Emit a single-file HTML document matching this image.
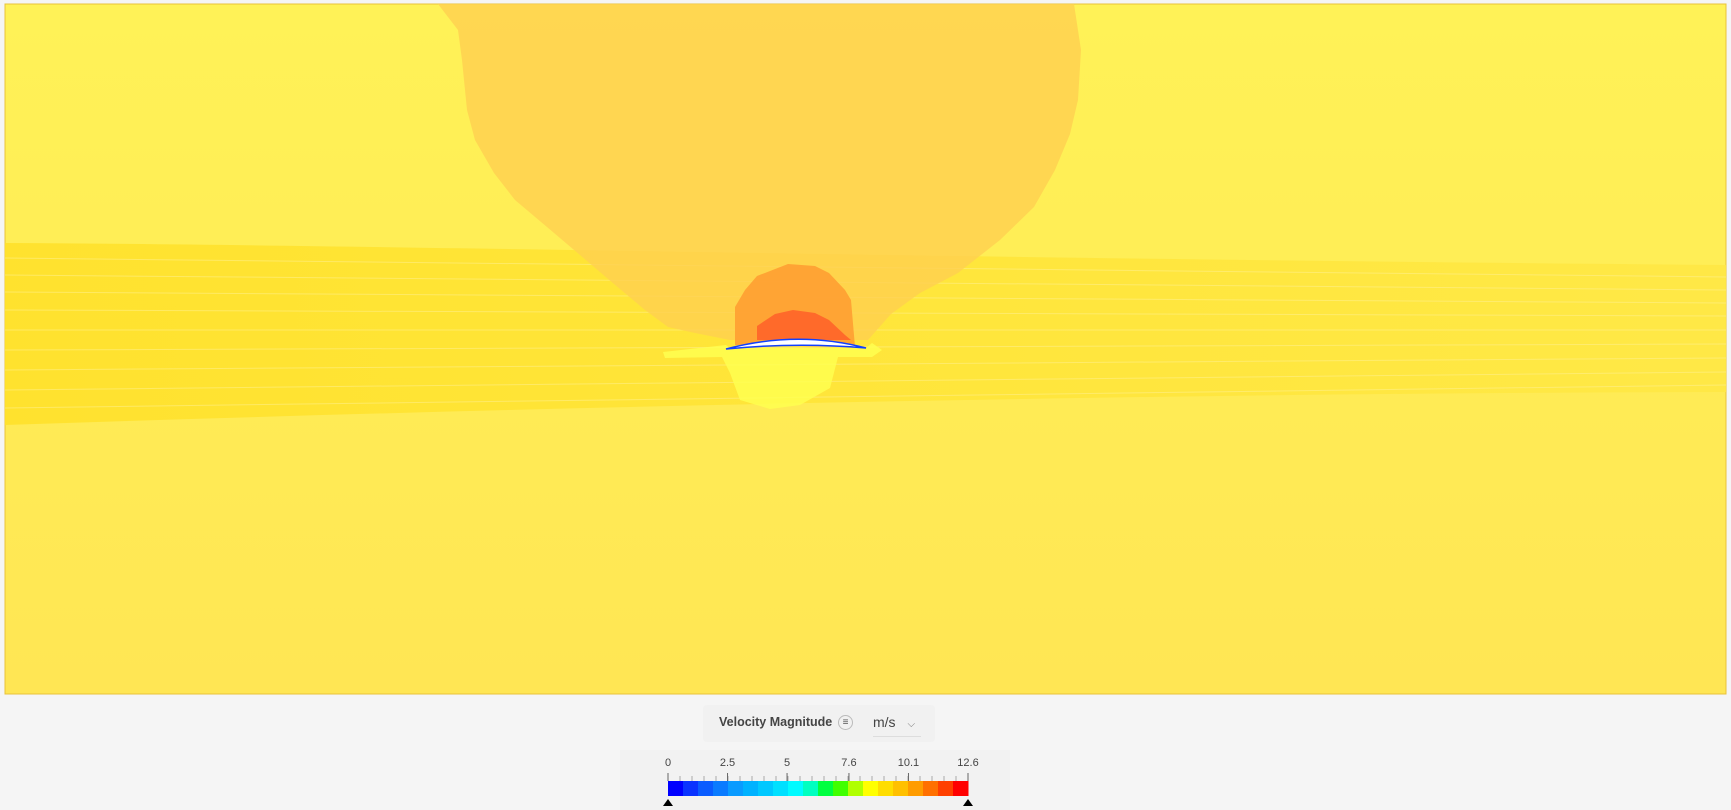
<!DOCTYPE html>
<html><head><meta charset="utf-8"><style>
body{margin:0;width:1731px;height:807px;background:#f5f5f5;font-family:"Liberation Sans",sans-serif;overflow:hidden;position:relative}
</style></head><body>
<svg width="1731" height="807" style="position:absolute;left:0;top:0">
<defs>
<linearGradient id="bg" x1="0" y1="0" x2="0" y2="1"><stop offset="0" stop-color="#fff257"/><stop offset="1" stop-color="#ffe654"/></linearGradient>
<linearGradient id="band" x1="0" y1="0" x2="1" y2="0"><stop offset="0" stop-color="#ffe12a"/><stop offset="1" stop-color="#ffe845"/></linearGradient>
</defs>
<rect x="5" y="4" width="1721" height="690" fill="url(#bg)" stroke="#e9c23a" stroke-width="1"/>
<path d="M5,243 C400,245 900,258 1726,265 L1726,392 C1200,393 600,405 5,425 Z" fill="url(#band)" opacity="0.9"/>
<g stroke="#fff3a0" stroke-width="1" fill="none" opacity="0.45">
<path d="M5,258 C500,262 1000,272 1726,277"/><path d="M5,275 C500,280 1000,286 1726,290"/><path d="M5,292 C500,296 1000,300 1726,303"/><path d="M5,310 C500,312 1000,315 1726,316"/><path d="M5,330 C500,330 1000,330 1726,330"/><path d="M5,350 C500,348 1000,345 1726,344"/><path d="M5,370 C500,366 1000,360 1726,358"/><path d="M5,390 C500,384 1000,376 1726,372"/><path d="M5,408 C500,400 1000,390 1726,385"/>
</g>
<path d="M438,4 L1074,4 L1081,50 L1078,100 L1070,134 L1055,170 L1034,207 L1000,240 L958,273 L920,293 L891,314 L868,340 L730,340 L695,333 L668,327 L645,310 L614,284 L580,255 L547,227 L515,200 L494,173 L475,140 L467,110 L462,60 L458,30 Z" fill="#ffcf50" opacity="0.8"/>
<path d="M663,352 L726,345 L730,348 L866,348 L872,343 L882,350 L872,357 L838,357 L830,388 L800,405 L770,409 L740,400 L730,373 L722,357 L665,358 Z" fill="#ffff50" opacity="0.85"/>
<path d="M735,345 L735,307 L745,290 L757,276 L788,264 L815,266 L829,273 L845,290 L851,300 L855,347 Z" fill="#ff9b30" opacity="0.85"/>
<path d="M757,340 L757,326 L775,314 L793,310 L815,313 L829,320 L845,335 L851,340 Z" fill="#ff6a2a"/>
<path d="M726,349 Q797,330 866,348 Q797,342 726,349 Z" fill="#ffffff" stroke="#1040ff" stroke-width="1.5"/>
</svg>
<div style="position:absolute;left:703px;top:705px;width:232px;height:37px;background:#f1f1f1;border-radius:4px"></div>
<div style="position:absolute;left:719px;top:715px;font-size:12.5px;font-weight:bold;color:#444">Velocity Magnitude</div>
<div style="position:absolute;left:838px;top:715px;width:13px;height:13px;border:1px solid #bbb;border-radius:50%;font-size:10px;line-height:13px;text-align:center;color:#555">≡</div>
<div style="position:absolute;left:873px;top:714px;width:48px;height:22px;border-bottom:1px solid #ddd;font-size:14px;color:#444">m/s <span style="margin-left:8px;font-size:10px;color:#777">⌵</span></div>
<svg width="400" height="60" style="position:absolute;left:620px;top:750px" id="cb"></svg>
<script>
const tickLabels=["0","2.5","5","7.6","10.1","12.6"];
const tickValues=[0,2.5,5,7.6,10.1,12.6];
const colors=["#0000ff","#0a33ff","#0a5cff","#0a7bff","#0a9bff","#00b2ff","#00c8ff","#00e0ff","#00fbff","#00ffc0","#00ff40","#40ff00","#b0ff00","#ffff00","#ffdd00","#ffc000","#ff9c00","#ff7000","#ff4000","#ff0000"];
const vmin=0,vmax=12.6;
const svg=document.getElementById('cb');const ns="http://www.w3.org/2000/svg";
const x0=48,x1=348,yTop=31,yBot=46;
const sx=v=>x0+(v-vmin)/(vmax-vmin)*(x1-x0);
const bg=document.createElementNS(ns,'rect');bg.setAttribute('x',0);bg.setAttribute('y',0);bg.setAttribute('width',390);bg.setAttribute('height',60);bg.setAttribute('fill','#f2f2f2');


svg.appendChild(bg);
const w=(x1-x0)/colors.length;
colors.forEach((c,i)=>{const r=document.createElementNS(ns,'rect');r.setAttribute('x',x0+i*w);r.setAttribute('y',yTop);r.setAttribute('width',w+0.5);r.setAttribute('height',yBot-yTop);r.setAttribute('fill',c);


svg.appendChild(r);});
for(let i=0;i<=25;i++){const v=vmin+i*(vmax-vmin)/25;const l=document.createElementNS(ns,'line');const x=sx(v);l.setAttribute('x1',x);l.setAttribute('x2',x);l.setAttribute('y1',yTop-5);l.setAttribute('y2',yTop);l.setAttribute('stroke','#aaa');


svg.appendChild(l);}
tickValues.forEach((v,i)=>{const x=sx(v);const l=document.createElementNS(ns,'line');l.setAttribute('x1',x);l.setAttribute('x2',x);l.setAttribute('y1',yTop-8);l.setAttribute('y2',yTop);l.setAttribute('stroke','#666');


svg.appendChild(l);
const t=document.createElementNS(ns,'text');t.setAttribute('x',x);t.setAttribute('y',16);t.setAttribute('text-anchor','middle');t.setAttribute('font-size','11');t.setAttribute('fill','#444');t.setAttribute('font-family','Liberation Sans, sans-serif');t.textContent=tickLabels[i];


svg.appendChild(t);});
[vmin,vmax].forEach(v=>{const p=document.createElementNS(ns,'path');const x=sx(v);p.setAttribute('d',`M${x-5},${yBot+10} L${x},${yBot+3} L${x+5},${yBot+10} Z`);p.setAttribute('fill','#000');


svg.appendChild(p);});
</script>
</body></html>
